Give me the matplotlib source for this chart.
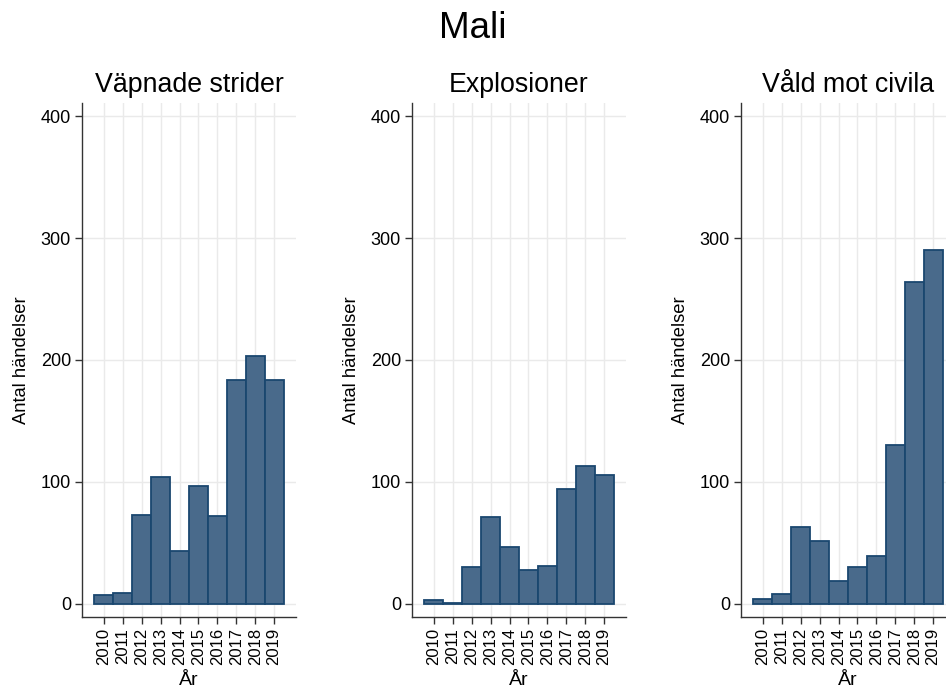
import matplotlib
matplotlib.use("Agg")
import matplotlib.pyplot as plt
import numpy as np

plt.rcParams['font.family'] = ['Liberation Sans', 'DejaVu Sans']

years = [2010, 2011, 2012, 2013, 2014, 2015, 2016, 2017, 2018, 2019]
titles = ["Väpnade strider", "Explosioner", "Våld mot civila"]
vapnade = [7, 9, 73, 104, 43, 97, 72, 184, 203, 184]
explosioner = [3, 1, 30, 71, 47, 28, 31, 94, 113, 106]
vald = [4, 8, 63, 52, 19, 30, 39, 130, 264, 290]
series = [vapnade, explosioner, vald]
yticks = [0, 100, 200, 300, 400]

W, H = 946, 689
fig = plt.figure(figsize=(W / 100, H / 100), dpi=100)
fig.text(0.5, 1 - 28 / H, "Mali", ha='center', va='center', fontsize=26.5)

lefts = [82, 412, 741]
for left, title, vals in zip(lefts, titles, series):
    ax = fig.add_axes([left / W, 1 - 617 / H, 214 / W, 514 / H])
    ax.set_axisbelow(True)
    ax.bar(years, vals, width=1.0, color='#496a8b', edgecolor='#1a476f', linewidth=1.3)
    ax.set_xlim(2008.84, 2020.16)
    ax.set_ylim(-10.7, 410.7)
    ax.set_xticks(years)
    ax.set_xticklabels([str(y) for y in years], rotation=90, fontsize=12)
    ax.set_yticks(yticks)
    ax.set_yticklabels([str(v) for v in yticks], fontsize=13)
    ax.grid(True, color='#eaeaea', linewidth=1.0)
    for s in ['top', 'right']:
        ax.spines[s].set_visible(False)
    for s in ['left', 'bottom']:
        ax.spines[s].set_color('#333333')
        ax.spines[s].set_linewidth(1.0)
    ax.tick_params(axis='both', direction='out', length=5, width=1.0, color='#333333', pad=3)
    ax.set_title(title, fontsize=19.3, pad=8)
    ax.set_ylabel("Antal händelser", fontsize=13.2, labelpad=8)
    ax.set_xlabel("År", fontsize=14, labelpad=5)

fig.savefig("out.png", dpi=100, facecolor='white')
